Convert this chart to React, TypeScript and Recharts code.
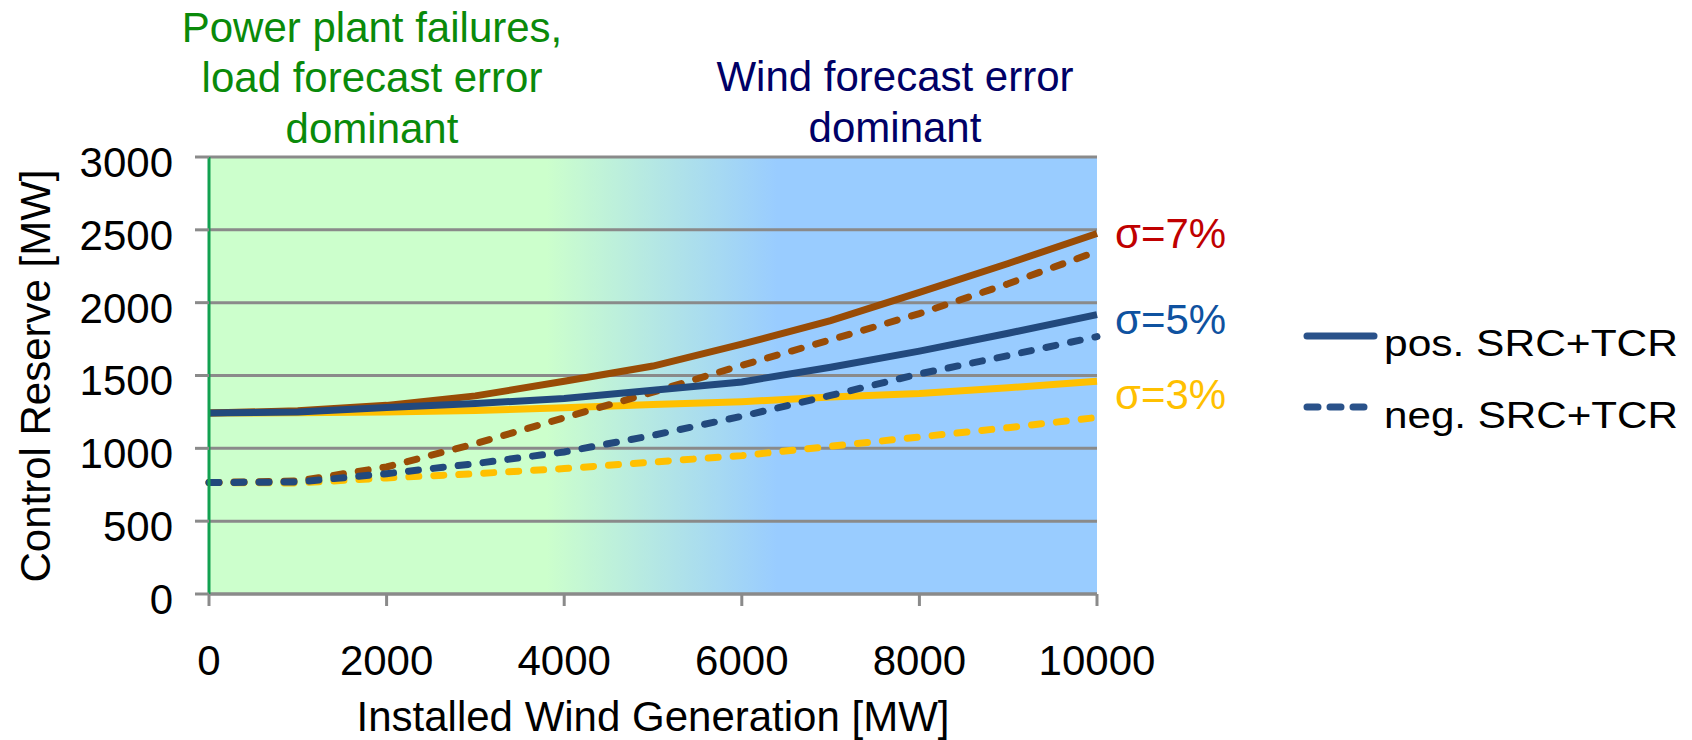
import { LineChart, Line, XAxis, YAxis, CartesianGrid } from "recharts";

// installed wind generation [MW]
const windMW = [0, 1000, 2000, 3000, 4000, 5000, 6000, 7000, 8000, 9000, 10000];

// control reserve [MW]
const pos7 = [1242, 1258, 1295, 1360, 1460, 1565, 1715, 1877, 2071, 2269, 2475];
const neg7 = [765, 776, 872, 1032, 1210, 1386, 1570, 1745, 1925, 2130, 2352];
const pos5 = [1242, 1249, 1280, 1308, 1342, 1398, 1456, 1557, 1667, 1790, 1918];
const neg5 = [765, 769, 826, 895, 975, 1089, 1220, 1363, 1511, 1637, 1767];
const pos3 = [1242, 1244, 1249, 1260, 1278, 1301, 1320, 1352, 1376, 1416, 1461];
const neg3 = [765, 762, 797, 826, 861, 906, 950, 1014, 1078, 1142, 1212];

const xTicks = [0, 2000, 4000, 6000, 8000, 10000];
const yTicks = [0, 500, 1000, 1500, 2000, 2500, 3000];

const sigmaLabels = [
  { text: "σ=7%", color: "#c00000", y: 248 },
  { text: "σ=5%", color: "#0f52a0", y: 334 },
  { text: "σ=3%", color: "#ffc000", y: 409 },
];

const BROWN = "#994c06";
const BLUE = "#22497d";
const YELLOW = "#ffc000";
const GRID = "#8a8a8a";
const FONT = "'Liberation Sans', Arial, sans-serif";
const DASH = "10 15";

const data = windMW.map((w, i) => ({
  w,
  pos7: pos7[i],
  neg7: neg7[i],
  pos5: pos5[i],
  neg5: neg5[i],
  pos3: pos3[i],
  neg3: neg3[i],
}));

const YTick = ({ x, y, payload }: any) => (
  <text x={x} y={y + 5} dy="0.355em" textAnchor="end" fontSize={42} fontFamily={FONT} fill="#000">
    {payload.value}
  </text>
);

const XTick = ({ x, y, payload }: any) => (
  <text x={x} y={y} dy="0.71em" textAnchor="middle" fontSize={42} fontFamily={FONT} fill="#000">
    {payload.value}
  </text>
);

export default function App() {
  return (
    <div style={{ position: "absolute", left: 0, top: 0, width: 1692, height: 740, background: "#fff" }}>
      <LineChart
        width={1692}
        height={740}
        data={data}
        margin={{ top: 157, right: 595, bottom: 86, left: 0 }}
      >
        <defs>
          <linearGradient id="bgGrad" x1="0" y1="0" x2="1" y2="0">
            <stop offset="0" stopColor="#ccffcc" />
            <stop offset="0.38" stopColor="#ccffcc" />
            <stop offset="0.64" stopColor="#99ccff" />
            <stop offset="1" stopColor="#99ccff" />
          </linearGradient>
        </defs>
        <CartesianGrid vertical={false} stroke={GRID} strokeWidth={3} fill="url(#bgGrad)" fillOpacity={1} />
        <XAxis
          dataKey="w"
          type="number"
          domain={[0, 10000]}
          ticks={xTicks}
          height={60}
          tickSize={12}
          tickMargin={39}
          axisLine={{ stroke: GRID, strokeWidth: 3 }}
          tickLine={{ stroke: GRID, strokeWidth: 3 }}
          tick={<XTick />}
        />
        <YAxis
          type="number"
          domain={[0, 3000]}
          ticks={yTicks}
          width={209}
          tickSize={14}
          tickMargin={22}
          axisLine={{ stroke: "#12a150", strokeWidth: 3 }}
          tickLine={{ stroke: GRID, strokeWidth: 3 }}
          tick={<YTick />}
        />
        <Line dataKey="pos3" stroke={YELLOW} strokeWidth={7} dot={false} isAnimationActive={false} />
        <Line dataKey="neg3" stroke={YELLOW} strokeWidth={7} strokeDasharray={DASH} strokeLinecap="round" dot={false} isAnimationActive={false} />
        <Line dataKey="pos7" stroke={BROWN} strokeWidth={7} dot={false} isAnimationActive={false} />
        <Line dataKey="neg7" stroke={BROWN} strokeWidth={7} strokeDasharray={DASH} strokeLinecap="round" dot={false} isAnimationActive={false} />
        <Line dataKey="pos5" stroke={BLUE} strokeWidth={7} dot={false} isAnimationActive={false} />
        <Line dataKey="neg5" stroke={BLUE} strokeWidth={7} strokeDasharray={DASH} strokeLinecap="round" dot={false} isAnimationActive={false} />
      </LineChart>

      {/* annotations, axis titles and the hand-made legend */}
      <svg
        width={1692}
        height={740}
        style={{ position: "absolute", left: 0, top: 0, pointerEvents: "none" }}
        fontFamily={FONT}
      >
        <g fill="#0a8a0a" fontSize={42} textAnchor="middle">
          <text x={372} y={42}>Power plant failures,</text>
          <text x={372} y={92}>load forecast error</text>
          <text x={372} y={143}>dominant</text>
        </g>
        <g fill="#000066" fontSize={42} textAnchor="middle">
          <text x={895} y={91}>Wind forecast error</text>
          <text x={895} y={142}>dominant</text>
        </g>
        {sigmaLabels.map((s) => (
          <text key={s.text} x={1115} y={s.y} fill={s.color} fontSize={42}>
            {s.text}
          </text>
        ))}
        <text x={653} y={731} textAnchor="middle" fontSize={42} fill="#000">
          Installed Wind Generation [MW]
        </text>
        <text
          x={0}
          y={0}
          transform="translate(50,376) rotate(-90)"
          textAnchor="middle"
          fontSize={42}
          fill="#000"
        >
          Control Reserve [MW]
        </text>
        <line x1={1307} y1={336} x2={1374} y2={336} stroke="#2a528a" strokeWidth={7} strokeLinecap="round" />
        <line x1={1307} y1={407} x2={1372} y2={407} stroke="#2a528a" strokeWidth={7} strokeLinecap="round" strokeDasharray="11 12" />
        <text x={1384} y={356} fontSize={36} textLength={294} lengthAdjust="spacingAndGlyphs" fill="#000">
          pos. SRC+TCR
        </text>
        <text x={1384} y={428} fontSize={36} textLength={294} lengthAdjust="spacingAndGlyphs" fill="#000">
          neg. SRC+TCR
        </text>
      </svg>
    </div>
  );
}
